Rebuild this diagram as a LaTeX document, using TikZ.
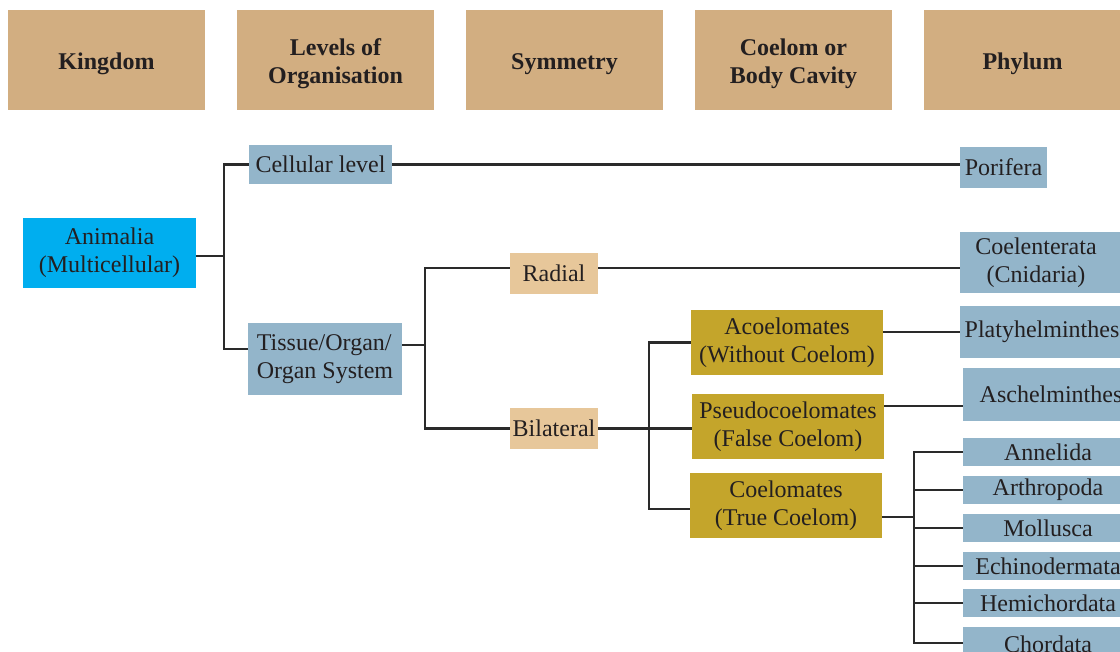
\documentclass[tikz,border=0pt]{standalone}
\usepackage{fontspec}
\setmainfont{Liberation Serif}
\definecolor{hdr}{HTML}{D2AE81}
\definecolor{phy}{HTML}{93B5CA}
\definecolor{ani}{HTML}{00AEEF}
\definecolor{pch}{HTML}{E7C79A}
\definecolor{mus}{HTML}{C4A52B}
\definecolor{txt}{HTML}{231F20}
\definecolor{ln}{HTML}{2A2A2A}
\newcommand\bodyfnt{\fontsize{24}{28}\selectfont}
\tikzset{
  anybox/.style={inner sep=0pt, align=center, text=txt, font=\bodyfnt},
  hdrbox/.style={inner sep=0pt, fill=hdr, minimum width=197pt, minimum height=100pt},
  hdrtext/.style={anybox, font=\bodyfnt\bfseries},
  phybox/.style={anybox, fill=phy},
  anibox/.style={anybox, fill=ani},
  pchbox/.style={anybox, fill=pch, minimum width=88pt, minimum height=41pt},
  musbox/.style={anybox, fill=mus, minimum width=192pt, minimum height=65pt},
  small/.style={phybox, minimum width=170pt, minimum height=28pt},
  conn/.style={draw=ln, line width=2.5pt, line join=miter}
}
\begin{document}
\begin{tikzpicture}[x=1pt,y=-1pt]
\useasboundingbox (0,0) rectangle (1120,652);
\clip (0,0) rectangle (1120,652);
% headers
\node[hdrbox] (h1) at (106.5,60) {};
\node[hdrbox] (h2) at (335.5,60) {};
\node[hdrbox] (h3) at (564.5,60) {};
\node[hdrbox] (h4) at (793.5,60) {};
\node[hdrbox] (h5) at (1022.5,60) {};
\node[hdrtext] (h1t) at ([yshift=-4pt]h1.center) {Kingdom};
\node[hdrtext] (h2t) at ([yshift=-4pt]h2.center) {Levels of\\Organisation};
\node[hdrtext] (h3t) at ([yshift=-4pt]h3.center) {Symmetry};
\node[hdrtext] (h4t) at ([yshift=-4pt]h4.center) {Coelom or\\Body Cavity};
\node[hdrtext] (h5t) at ([yshift=-4pt]h5.center) {Phylum};
% body nodes
\node[anibox, minimum width=173pt, minimum height=70pt] (anim) at (109.5,253) {Animalia\\(Multicellular)};
\node[phybox, minimum width=143pt, minimum height=39pt] (cell) at (320.5,164.5) {Cellular level};
\node[phybox, minimum width=154pt, minimum height=72pt, align=left] (tiss) at (325,359) {Tissue/Organ/\\Organ System};
\node[pchbox] (rad) at (554,273.5) {Radial};
\node[pchbox] (bil) at (554,428.5) {Bilateral};
\node[musbox] (acoel) at (787,342.5) {Acoelomates\\(Without Coelom)};
\node[musbox] (pseudo) at (788,426.5) {Pseudocoelomates\\(False Coelom)};
\node[musbox] (coelo) at (786,505.5) {Coelomates\\(True Coelom)};
\node[phybox, minimum width=87pt, minimum height=41pt] (pori) at (1003.5,167.5) {Porifera};
\node[phybox, minimum width=166pt, minimum height=61pt] (coelen) at (1043,262.5) {Coelenterata\hspace*{14pt}\\(Cnidaria)\hspace*{14pt}};
\node[phybox, minimum width=164pt, minimum height=52pt] (platy) at (1042,332) {Platyhelminthes};
\node[phybox, minimum width=176pt, minimum height=53pt] (aschel) at (1051,394.5) {Aschelminthes};
\node[small] (anne) at (1048,452) {Annelida};
\node[small] (arth) at (1048,490) {Arthropoda};
\node[small] (moll) at (1048,528) {Mollusca};
\node[small] (echi) at (1048,566) {Echinodermata};
\node[small] (hemi) at (1048,603) {Hemichordata};
\node[small, minimum height=38pt] (chor) at (1048,646) {\raisebox{3pt}{Chordata}};
% junctions
\coordinate (j1) at (224,256);
\coordinate (j2) at (425,345);
\coordinate (j3) at (649,429);
\coordinate (j4) at (914,517);
\coordinate (a1) at ([yshift=-3pt]anim.east);
\coordinate (t1) at ([yshift=10pt]tiss.west);
\coordinate (t2) at ([yshift=14pt]tiss.east);
\coordinate (r1) at ([yshift=5.5pt]rad.west);
\coordinate (r2) at ([yshift=5.5pt]rad.east);
\coordinate (co1) at ([yshift=-3.5pt]coelo.west);
\coordinate (co2) at ([yshift=-11.5pt]coelo.east);
\coordinate (ps1) at ([yshift=20.5pt]pseudo.east);
\coordinate (ch1) at ([yshift=3pt]chor.west);
% connectors
\draw[conn] (a1) -- (j1);
\draw[conn] (cell.west) -- (cell.west -| j1) -- (t1 -| j1) -- (t1);
\draw[conn] (cell.east) -- (cell.east -| pori.west);
\draw[conn] (t2) -- (j2);
\draw[conn] (r1) -- (r1 -| j2) -- (bil.west -| j2) -- (bil.west);
\draw[conn] (r2) -- (r2 -| coelen.west);
\draw[conn] (bil.east) -- (bil.east -| pseudo.west);
\draw[conn] (acoel.west) -- (acoel.west -| j3) -- (co1 -| j3) -- (co1);
\draw[conn] (platy.west -| acoel.east) -- (platy.west);
\draw[conn] (ps1) -- (ps1 -| aschel.west);
\draw[conn] (co2) -- (j4);
\draw[conn] (anne.west) -- (anne.west -| j4) -- (ch1 -| j4) -- (ch1);
\foreach \n in {arth,moll,echi,hemi}{\draw[conn] (\n.west) -- (\n.west -| j4);}
\end{tikzpicture}
\end{document}
